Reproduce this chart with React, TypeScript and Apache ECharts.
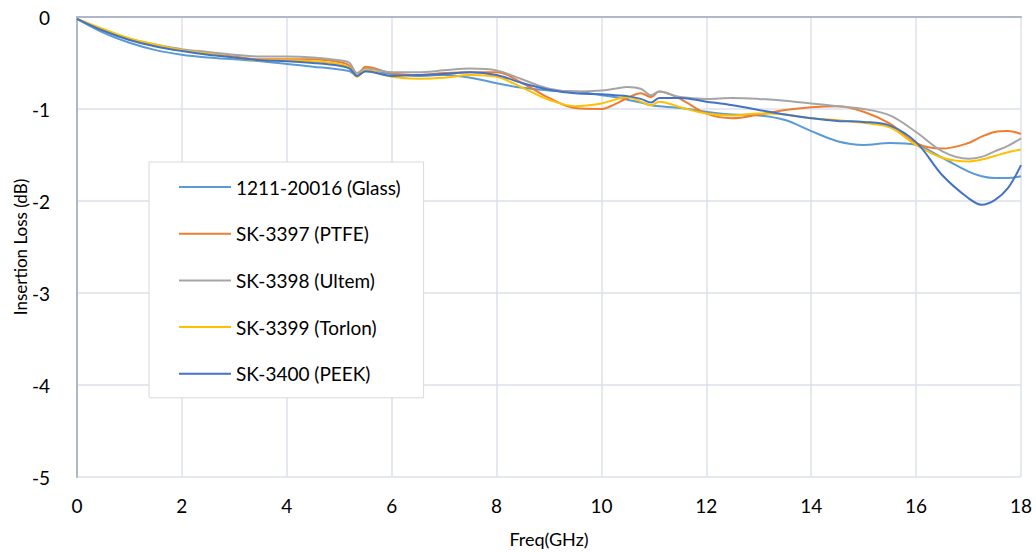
import React, { useEffect, useRef } from "react";
import * as echarts from "echarts";

const freq = [0, 0.5, 1, 1.5, 2, 2.5, 3, 3.5, 4, 4.5, 5, 5.2, 5.34, 5.5, 6, 6.5, 7, 7.5, 8, 8.5, 9, 9.5, 10, 10.25, 10.5, 10.75, 10.95, 11.1, 11.5, 12, 12.5, 13, 13.5, 14, 14.5, 15, 15.5, 16, 16.5, 17, 17.25, 17.5, 17.75, 18];

const glass = [-0.02, -0.17, -0.28, -0.36, -0.41, -0.44, -0.46, -0.48, -0.51, -0.54, -0.57, -0.59, -0.64, -0.59, -0.62, -0.64, -0.63, -0.66, -0.72, -0.77, -0.8, -0.81, -0.85, -0.87, -0.9, -0.93, -0.96, -0.97, -0.99, -1.03, -1.06, -1.07, -1.12, -1.24, -1.35, -1.39, -1.37, -1.39, -1.53, -1.68, -1.73, -1.75, -1.75, -1.73];
const ptfe = [-0.02, -0.14, -0.24, -0.31, -0.36, -0.4, -0.43, -0.46, -0.46, -0.46, -0.49, -0.53, -0.64, -0.54, -0.61, -0.63, -0.61, -0.6, -0.6, -0.72, -0.88, -0.99, -1.0, -0.95, -0.88, -0.83, -0.87, -0.81, -0.89, -1.05, -1.1, -1.06, -1.01, -0.98, -0.97, -1.03, -1.16, -1.37, -1.43, -1.37, -1.3, -1.25, -1.24, -1.27];
const ultem = [-0.02, -0.14, -0.24, -0.3, -0.35, -0.38, -0.41, -0.43, -0.43, -0.44, -0.47, -0.5, -0.61, -0.56, -0.6, -0.6, -0.58, -0.56, -0.58, -0.68, -0.78, -0.81, -0.8, -0.78, -0.76, -0.78, -0.85, -0.81, -0.87, -0.89, -0.88, -0.89, -0.91, -0.94, -0.97, -1.0, -1.07, -1.25, -1.46, -1.54, -1.52, -1.46, -1.4, -1.32];
const torlon = [-0.02, -0.13, -0.23, -0.3, -0.36, -0.4, -0.44, -0.47, -0.47, -0.48, -0.51, -0.55, -0.65, -0.58, -0.65, -0.67, -0.66, -0.63, -0.65, -0.77, -0.9, -0.97, -0.94, -0.9, -0.87, -0.92, -0.96, -0.92, -0.98, -1.05, -1.07, -1.05, -1.06, -1.1, -1.12, -1.15, -1.2, -1.39, -1.53, -1.57, -1.55, -1.51, -1.47, -1.44];
const peek = [-0.02, -0.15, -0.25, -0.32, -0.37, -0.41, -0.44, -0.47, -0.48, -0.5, -0.53, -0.56, -0.64, -0.59, -0.64, -0.63, -0.62, -0.6, -0.63, -0.72, -0.79, -0.83, -0.84, -0.85, -0.86, -0.89, -0.93, -0.88, -0.88, -0.92, -0.96, -1.01, -1.06, -1.1, -1.13, -1.14, -1.18, -1.36, -1.72, -1.97, -2.04, -1.99, -1.86, -1.61];

const seriesNames = ["1211-20016 (Glass)", "SK-3397 (PTFE)", "SK-3398 (Ultem)", "SK-3399 (Torlon)", "SK-3400 (PEEK)"];
const seriesValues = [glass, ptfe, ultem, torlon, peek];
const seriesColors = ["#5B9BD5", "#ED7D31", "#A5A5A5", "#FFC000", "#4472C4"];

const xTicks = { min: 0, max: 18, interval: 2 };
const yTicks = { min: -5, max: 0, interval: 1 };

const FONT = "Lato, 'Noto Sans', sans-serif";

export default function App() {
  const ref = useRef<HTMLDivElement>(null);
  useEffect(() => {
    if (!ref.current) return;
    const chart = echarts.init(ref.current, undefined, { renderer: "svg" });
    chart.setOption({
      animation: false,
      backgroundColor: "#ffffff",
      textStyle: { fontFamily: FONT },
      grid: { left: 77, top: 17, right: 15, bottom: 75, containLabel: false, outerBoundsMode: "none" },
      legend: {
        orient: "vertical",
        left: 149,
        top: 162,
        padding: [15, 23, 14, 30],
        itemGap: 26.7,
        itemWidth: 52,
        itemHeight: 2,
        icon: "rect",
        backgroundColor: "#ffffff",
        borderColor: "#d9d9d9",
        borderWidth: 1,
        borderRadius: 0,
        textStyle: { fontFamily: FONT, fontSize: 19, color: "#000000", lineHeight: 20 },
        data: seriesNames,
      },
      xAxis: {
        type: "value",
        min: xTicks.min,
        max: xTicks.max,
        interval: xTicks.interval,
        name: "Freq(GHz)",
        nameLocation: "middle",
        nameGap: 53,
        nameMoveOverlap: false,
        nameTextStyle: { fontFamily: FONT, fontSize: 18, color: "#000000" },
        axisLine: { show: true, lineStyle: { color: "#b0b8c8", width: 2 } },
        axisTick: { show: false },
        axisLabel: { fontFamily: FONT, fontSize: 19, color: "#000000", margin: 19 },
        splitLine: { show: true, lineStyle: { color: "#dde1e9", width: 1.5 } },
      },
      yAxis: {
        type: "value",
        min: yTicks.min,
        max: yTicks.max,
        interval: yTicks.interval,
        name: "Insertion Loss (dB)",
        nameLocation: "middle",
        nameGap: 48,
        nameMoveOverlap: false,
        nameTextStyle: { fontFamily: FONT, fontSize: 17, color: "#000000" },
        axisLine: { show: true, lineStyle: { color: "#b0b8c8", width: 2 } },
        axisTick: { show: false },
        axisLabel: { fontFamily: FONT, fontSize: 19, color: "#000000", margin: 27 },
        splitLine: {
          show: true,
          lineStyle: {
            color: ["#dde1e9", "#dde1e9", "#dde1e9", "#dde1e9", "#dde1e9", "#b0b8c8"],
            width: 1.5,
          },
        },
      },
      series: seriesNames.map((name, i) => ({
        name,
        type: "line",
        data: freq.map((f, j) => [f, seriesValues[i][j]]),
        smooth: 0.35,
        symbol: "none",
        lineStyle: { color: seriesColors[i], width: 2 },
        itemStyle: { color: seriesColors[i] },
        z: 2 + i,
      })),
    });
    return () => chart.dispose();
  }, []);
  return (
    <div
      ref={ref}
      style={{ position: "fixed", left: 0, top: 0, width: 1036, height: 552 }}
    />
  );
}
